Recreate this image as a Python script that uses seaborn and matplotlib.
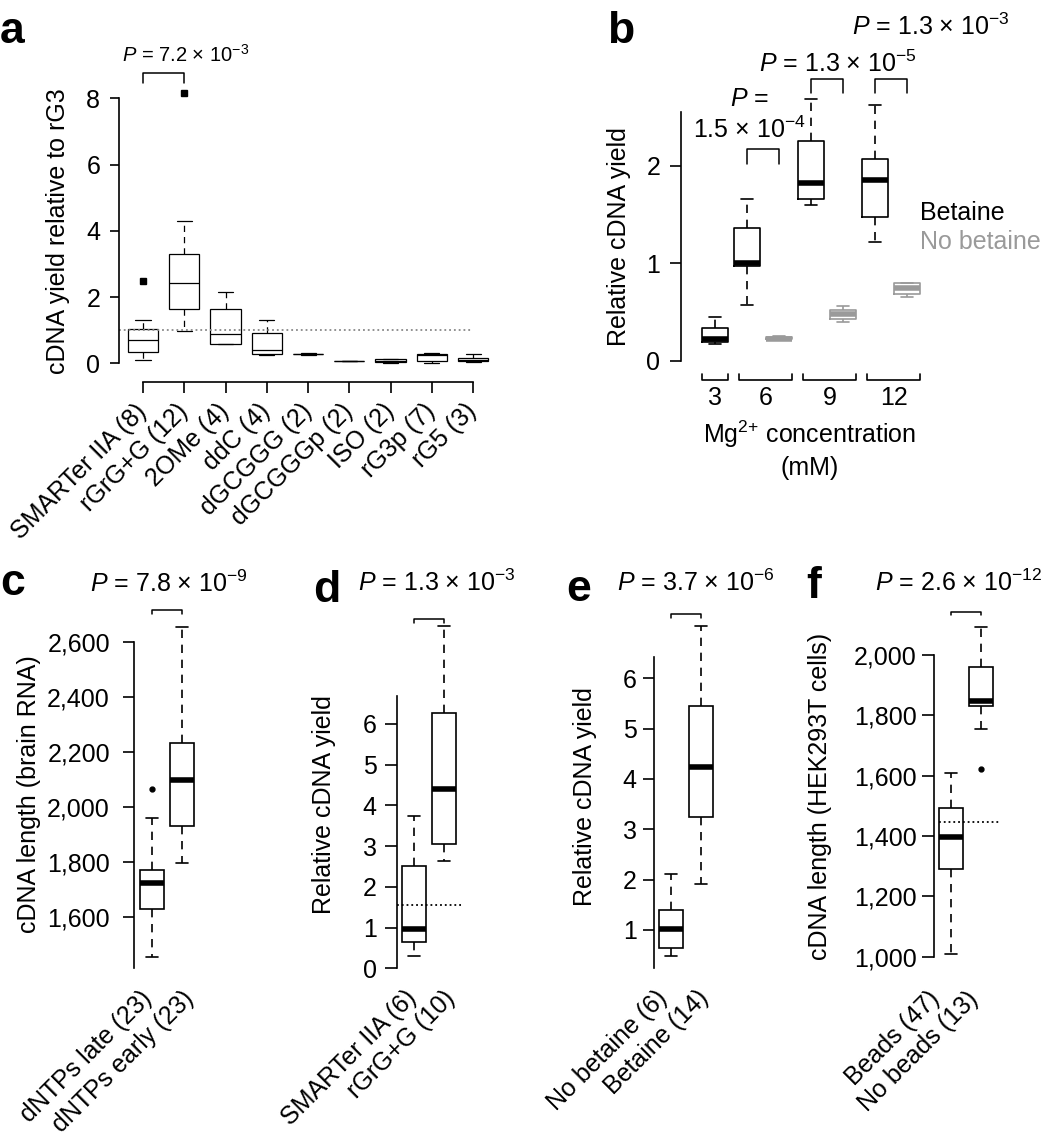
import matplotlib
matplotlib.use('Agg')
import matplotlib.pyplot as plt
from matplotlib.ticker import StrMethodFormatter
import pandas as pd
import seaborn as sns

# ---- data (raw values giving the drawn boxes) ----
# a: cDNA yield relative to rG3
a_labels = ['SMARTer IIA (8)', 'rGrG+G (12)', '2OMe (4)', 'ddC (4)', 'dGCGGG (2)',
            'dGCGGGp (2)', 'ISO (2)', 'rG3p (7)', 'rG5 (3)']
a_values = [
    [0.10, 0.22, 0.33, 0.52, 0.70, 0.88, 1.04, 1.31, 2.49],
    [0.99, 1.35, 1.64, 2.05, 2.42, 2.90, 3.30, 4.30, 8.16],
    [0.57, 0.58, 0.88, 1.63, 2.16],
    [0.26, 0.28, 0.40, 0.91, 1.31],
    [0.26, 0.27, 0.28, 0.29, 0.30],
    [0.06, 0.065, 0.07, 0.075, 0.08],
    [0.01, 0.03, 0.07, 0.12, 0.13],
    [0.00, 0.08, 0.24, 0.28, 0.31],
    [0.04, 0.06, 0.10, 0.15, 0.27],
]
a_ref = 1.0

# b: relative cDNA yield vs Mg2+ concentration, with / without betaine
b_conc = ['3', '6', '6', '9', '9', '12', '12']
b_cond = ['Betaine', 'Betaine', 'No betaine', 'Betaine', 'No betaine', 'Betaine', 'No betaine']
b_values = [
    [0.17, 0.19, 0.22, 0.34, 0.45],
    [0.57, 0.97, 1.00, 1.36, 1.66],
    [0.21, 0.22, 0.23, 0.25, 0.26],
    [1.60, 1.66, 1.82, 2.25, 2.68],
    [0.40, 0.43, 0.48, 0.52, 0.56],
    [1.22, 1.47, 1.85, 2.07, 2.62],
    [0.65, 0.69, 0.75, 0.80, 0.80],
]
b_colors = {'Betaine': 'black', 'No betaine': '#9a9a9a'}

# c: cDNA length (brain RNA)
c_labels = ['dNTPs late (23)', 'dNTPs early (23)']
c_values = [
    [1454, 1560, 1627, 1690, 1724, 1750, 1770, 1961, 2064],
    [1795, 1930, 2098, 2234, 2657],
]

# d: relative cDNA yield, template-switching oligo
d_labels = ['SMARTer IIA (6)', 'rGrG+G (10)']
d_values = [
    [0.30, 0.65, 0.97, 2.50, 3.74],
    [2.64, 3.05, 4.40, 6.27, 8.40],
]
d_ref = 1.55

# e: relative cDNA yield, betaine
e_labels = ['No betaine (6)', 'Betaine (14)']
e_values = [
    [0.48, 0.64, 1.02, 1.40, 2.12],
    [1.92, 3.24, 4.23, 5.45, 7.03],
]

# f: cDNA length (HEK293T cells)
f_labels = ['Beads (47)', 'No beads (13)']
f_values = [
    [1010, 1290, 1396, 1492, 1609],
    [1621, 1755, 1832, 1840, 1848, 1910, 1959, 2030, 2094],
]
f_ref = 1445

p_texts = {
    'a': r'$P$ = 7.2 × 10$^{-3}$',
    'b6': '1.5 × 10$^{-4}$',
    'b9': r'$P$ = 1.3 × 10$^{-5}$',
    'b12': r'$P$ = 1.3 × 10$^{-3}$',
    'c': r'$P$ = 7.8 × 10$^{-9}$',
    'd': r'$P$ = 1.3 × 10$^{-3}$',
    'e': r'$P$ = 3.7 × 10$^{-6}$',
    'f': r'$P$ = 2.6 × 10$^{-12}$',
}

# ---- style ----
sns.set_theme(style='white')
plt.rcParams['font.family'] = ['Liberation Sans', 'DejaVu Sans']
plt.rcParams['mathtext.fontset'] = 'custom'
plt.rcParams['mathtext.rm'] = 'Liberation Sans'
plt.rcParams['mathtext.it'] = 'Liberation Sans:italic'
plt.rcParams['mathtext.bf'] = 'Liberation Sans:bold'
for key in ['axes.edgecolor', 'xtick.color', 'ytick.color', 'text.color', 'axes.labelcolor']:
    plt.rcParams[key] = 'black'

W, H = 1050, 1148
fig = plt.figure(figsize=(W / 100, H / 100), dpi=100)
FS = 18


def px_axes(left, top, right, bottom):
    return fig.add_axes([left / W, 1 - bottom / H, (right - left) / W, (bottom - top) / H])


def px_text(x, y, s, **kw):
    fig.text(x / W, 1 - y / H, s, **kw)


def long_df(labels, values):
    rows = [(lab, v) for lab, vals in zip(labels, values) for v in vals]
    return pd.DataFrame(rows, columns=['group', 'value'])


def style_yaxis(ax, lo, hi, ticks, ticklen, pad):
    for side in ['top', 'right', 'bottom']:
        ax.spines[side].set_visible(False)
    ax.spines['left'].set_bounds(lo, hi)
    ax.spines['left'].set_linewidth(1.2)
    ax.set_yticks(ticks)
    ax.tick_params(axis='y', left=True, length=ticklen, width=1.2, pad=pad, labelsize=FS)
    ax.set_xlabel('')
    ax.set_ylabel('')


def bracket(ax, x0, x1, top, leg):
    ax.plot([x0, x0, x1, x1], [leg, top, top, leg], color='black', lw=1.1, clip_on=False)


box_kw = dict(color='white', linecolor='black', saturation=1, width=0.8, linewidth=1.2,
              fliersize=3.5, flierprops=dict(marker='o', markerfacecolor='black'),
              whiskerprops=dict(linestyle=(0, (5, 4))),
              medianprops=dict(linewidth=4, solid_capstyle='butt'))

# ---- panel a ----
ax = px_axes(119.1, 81.9, 497.8, 371.6)
sns.boxplot(data=long_df(a_labels, a_values), x='group', y='value', order=a_labels,
            color='white', linecolor='black', saturation=1, width=0.73, linewidth=0.9,
            fliersize=4.5, flierprops=dict(marker='s', markerfacecolor='black'),
            whiskerprops=dict(linestyle=(0, (5, 4))), ax=ax)
ax.hlines(a_ref, -0.58, len(a_labels) - 1, colors='#888888', linestyles=':', lw=1.3)
ax.set_xlim(-0.58, 8.6)
ax.set_ylim(-0.25, 8.5)
style_yaxis(ax, 0, 8, [0, 2, 4, 6, 8], 6.5, 7)
ax.spines['bottom'].set_visible(True)
ax.spines['bottom'].set_linewidth(1.2)
ax.spines['bottom'].set_position(('outward', 7.3))
ax.spines['bottom'].set_bounds(0, len(a_labels) - 1)
ax.set_xticks(range(len(a_labels)))
ax.set_xticklabels(a_labels, rotation=45, ha='right', va='center', rotation_mode='anchor')
ax.tick_params(axis='x', bottom=True, length=8, width=1.2, pad=10.8, labelsize=FS)
bracket(ax, 0, 1, 8.78, 8.46)
px_text(121.7, 61.7, p_texts['a'], fontsize=14.5, va='baseline')
px_text(58, 231, 'cDNA yield relative to rG3', rotation=90, ha='center', va='center', fontsize=FS)

# ---- panel b ----
b_slots = [f'{c} mM {t}' for c, t in zip(b_conc, b_cond)]
df_b = pd.DataFrame([(s, t, v) for s, t, vals in zip(b_slots, b_cond, b_values) for v in vals],
                    columns=['slot', 'cond', 'value'])
ax = px_axes(680.8, 92.3, 945.4, 385.4)
sns.boxplot(data=df_b, x='slot', y='value', hue='cond', order=b_slots,
            hue_order=list(b_colors), palette=b_colors, fill=False, dodge=False,
            width=0.8, linewidth=1.2, legend=False,
            whiskerprops=dict(linestyle=(0, (5, 4))),
            medianprops=dict(linewidth=4, solid_capstyle='butt'), ax=ax)
ax.set_xlim(-1.07, 7.2)
ax.set_ylim(-0.25, 2.75)
style_yaxis(ax, 0, 2.55, [0, 1, 2], 7.7, 7)
ax.set_xticks([])
for conc in dict.fromkeys(b_conc):
    idx = [i for i, c in enumerate(b_conc) if c == conc]
    x0 = idx[0] - (0.42 if len(idx) == 1 else 0.24)
    x1 = idx[-1] + 0.42
    ax.plot([x0, x0, x1, x1], [-0.133, -0.195, -0.195, -0.133], color='black', lw=1.2,
            clip_on=False)
    ax.text((x0 + x1) / 2, -0.38, conc, ha='center', va='center', fontsize=FS)
bracket(ax, 1, 2, 2.17, 2.02)
bracket(ax, 3, 4, 2.89, 2.74)
bracket(ax, 5, 6, 2.89, 2.74)
px_text(730, 106, r'$P$ =', fontsize=FS, va='baseline')
px_text(693.3, 138.3, p_texts['b6'], fontsize=FS, va='baseline')
px_text(759, 71.7, p_texts['b9'], fontsize=FS, va='baseline')
px_text(851.7, 35, p_texts['b12'], fontsize=FS, va='baseline')
px_text(920, 213, 'Betaine', color=b_colors['Betaine'], fontsize=FS, va='center')
px_text(920, 242, 'No betaine', color=b_colors['No betaine'], fontsize=FS, va='center')
px_text(810, 434, r'Mg$^{2{+}}$ concentration', ha='center', va='center', fontsize=FS)
px_text(810, 468, '(mM)', ha='center', va='center', fontsize=FS)
px_text(619, 237, 'Relative cDNA yield', rotation=90, ha='center', va='center', fontsize=FS)


# ---- panels c-f ----
def two_box_panel(rect, labels, values, xlim, ylim, spine, ticks, ticklen, pad, label_at):
    ax = px_axes(*rect)
    sns.boxplot(data=long_df(labels, values), x='group', y='value', order=labels, ax=ax,
                **box_kw)
    ax.set_xlim(*xlim)
    ax.set_ylim(*ylim)
    style_yaxis(ax, spine[0], spine[1], ticks, ticklen, pad)
    # rotated labels sit a little wider apart than the boxes
    ax.set_xticks(label_at)
    ax.set_xticklabels(labels, rotation=45, ha='right', va='center', rotation_mode='anchor')
    ax.tick_params(axis='x', bottom=False, length=0, pad=19, labelsize=FS)
    return ax


ax = two_box_panel((134.3, 614.9, 199.7, 968.3), c_labels, c_values, (-0.58, 1.6),
                   (1412, 2700), (1412, 2600), range(1600, 2601, 200), 8, 9.5, [-0.12, 1.28])
ax.yaxis.set_major_formatter(StrMethodFormatter('{x:,.0f}'))
bracket(ax, 0, 1, 2718, 2704)
px_text(90, 591.7, p_texts['c'], fontsize=FS, va='baseline')
px_text(29, 794, 'cDNA length (brain RNA)', rotation=90, ha='center', va='center', fontsize=FS)

ax = two_box_panel((396.7, 618.1, 465.3, 968.3), d_labels, d_values, (-0.587, 1.7),
                   (0, 8.6), (0, 6.69), range(0, 7), 8.4, 6, [-0.06, 1.25])
ax.hlines(d_ref, -0.587, 1.63, colors='black', linestyles=':', lw=1.3)
bracket(ax, 0, 1, 8.58, 8.48)
px_text(358.3, 590.7, p_texts['d'], fontsize=FS, va='baseline')
px_text(324, 805, 'Relative cDNA yield', rotation=90, ha='center', va='center', fontsize=FS)

ax = two_box_panel((654.3, 617.9, 719, 968.2), e_labels, e_values, (-0.557, 1.6),
                   (0.24, 7.2), (0.24, 6.43), range(1, 7), 8, 4.8, [-0.25, 1.13])
bracket(ax, 0, 1, 7.27, 7.19)
px_text(616.7, 590.7, p_texts['e'], fontsize=FS, va='baseline')
px_text(585, 797, 'Relative cDNA yield', rotation=90, ha='center', va='center', fontsize=FS)

ax = two_box_panel((934, 612.7, 1002, 968.8), f_labels, f_values, (-0.567, 1.7),
                   (960, 2140), (1000, 2000), range(1000, 2001, 200), 8.8, 3.6, [-0.5, 0.78])
ax.yaxis.set_major_formatter(StrMethodFormatter('{x:,.0f}'))
ax.hlines(f_ref, -0.4, 1.63, colors='black', linestyles=':', lw=1.3)
bracket(ax, 0, 1, 2143.5, 2131)
px_text(875, 590.7, p_texts['f'], fontsize=FS, va='baseline')
px_text(820, 796, 'cDNA length (HEK293T cells)', rotation=90, ha='center', va='center',
        fontsize=FS)

# ---- panel letters ----
for letter, x, y in [('a', 0, 43), ('b', 606.7, 43), ('c', 0, 595), ('d', 313, 601.7),
                     ('e', 566.7, 601), ('f', 806.7, 598)]:
    px_text(x, y, letter, fontsize=32, fontweight='bold', va='baseline')

fig.savefig('out.png', dpi=100)
